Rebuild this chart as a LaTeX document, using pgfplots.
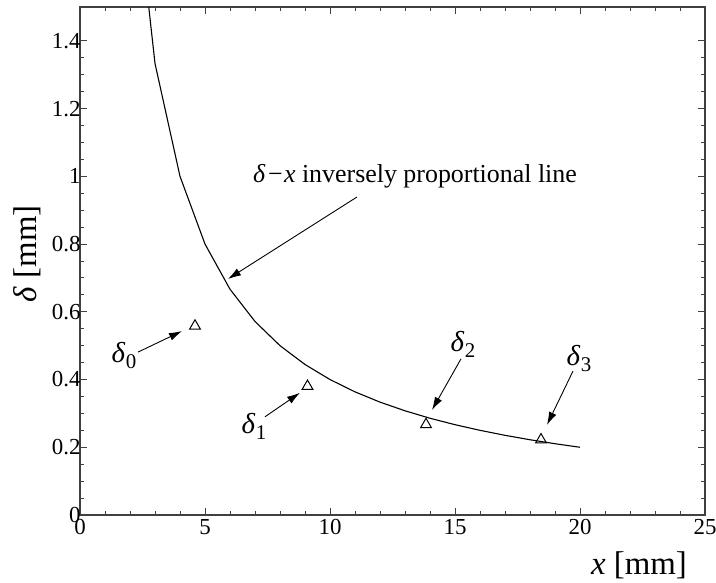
\documentclass[border=0pt]{standalone}
\usepackage{fontspec}
\setmainfont{Liberation Serif}
\usepackage{pgfplots}
\pgfplotsset{compat=1.18}
\usetikzlibrary{arrows.meta}
\newcommand{\dl}[1]{\textit{δ}\kern0.02em\raisebox{-0.45ex}{\fontsize{21}{24}\selectfont #1}}
\begin{document}
\begin{tikzpicture}
\begin{axis}[
  scale only axis, width=625bp, height=508bp,
  xmin=0, xmax=25, ymin=0, ymax=1.5,
  xtick={0,5,10,15,20,25}, ytick={0,0.2,0.4,0.6,0.8,1,1.2,1.4},
  minor x tick num=4, minor y tick num=3,
  tick align=inside, tick pos=both,
  major tick length=7bp, minor tick length=4bp,
  axis line style={line width=1.3pt, black!75},
  every tick/.style={line width=1pt, black!75},
  tick label style={font=\fontsize{23}{27}\selectfont},
  /pgf/number format/assume math mode=true,
  xticklabel style={yshift=-1bp},
  yticklabel style={xshift=4bp},
  clip=false,
]
\addplot[black, line width=1.1pt] coordinates {
(2.75,1.5) (3,1.3333) (4,1.0) (5,0.8) (6,0.6667) (7,0.5714) (8,0.5) (9,0.4444)
(10,0.4) (11,0.3636) (12,0.3333) (13,0.3077) (14,0.2857) (15,0.2667)
(16,0.25) (17,0.2353) (18,0.2222) (19,0.2105) (20,0.2)};
\addplot[only marks, mark=triangle, mark size=6.3pt, mark options={black, fill=white, line width=1pt}] coordinates {
(4.6,0.558) (9.1,0.38) (13.84,0.267) (18.44,0.222)};

\node[font=\fontsize{29}{33}\selectfont] at (axis cs:1.76,0.47) {\dl{0}};
\node[font=\fontsize{29}{33}\selectfont] at (axis cs:6.96,0.263) {\dl{1}};
\node[font=\fontsize{29}{33}\selectfont] at (axis cs:15.32,0.505) {\dl{2}};
\node[font=\fontsize{29}{33}\selectfont] at (axis cs:19.96,0.461) {\dl{3}};
\draw[-{Latex[length=13bp,width=8bp]}, line width=0.9pt] (axis cs:2.32,0.481) -- (axis cs:4.08,0.543);
\draw[-{Latex[length=13bp,width=8bp]}, line width=0.9pt] (axis cs:7.4,0.29) -- (axis cs:8.8,0.361);
\draw[-{Latex[length=13bp,width=8bp]}, line width=0.9pt] (axis cs:15.24,0.461) -- (axis cs:14.08,0.31);
\draw[-{Latex[length=13bp,width=8bp]}, line width=0.9pt] (axis cs:19.72,0.425) -- (axis cs:18.68,0.266);
\draw[-{Latex[length=13bp,width=8bp]}, line width=0.9pt] (axis cs:11.08,0.939) -- (axis cs:5.92,0.697);
\node[anchor=base west, inner sep=0pt, font=\fontsize{26}{30}\selectfont] at (axis cs:6.92,0.983) {\textit{δ}\kern0.1em−\kern0.05em\textit{x} inversely proportional line};
\node[font=\fontsize{33}{37}\selectfont, rotate=90] at (axis cs:-2.12,0.771) {\textit{δ} [mm]};
\node[font=\fontsize{33}{37}\selectfont] at (axis cs:22.36,-0.148) {\textit{x} [mm]};
\end{axis}
\pgfresetboundingbox
\path ([shift={(-80bp,-68bp)}]current axis.south west) rectangle ([shift={(11bp,7bp)}]current axis.north east);
\end{tikzpicture}
\end{document}
